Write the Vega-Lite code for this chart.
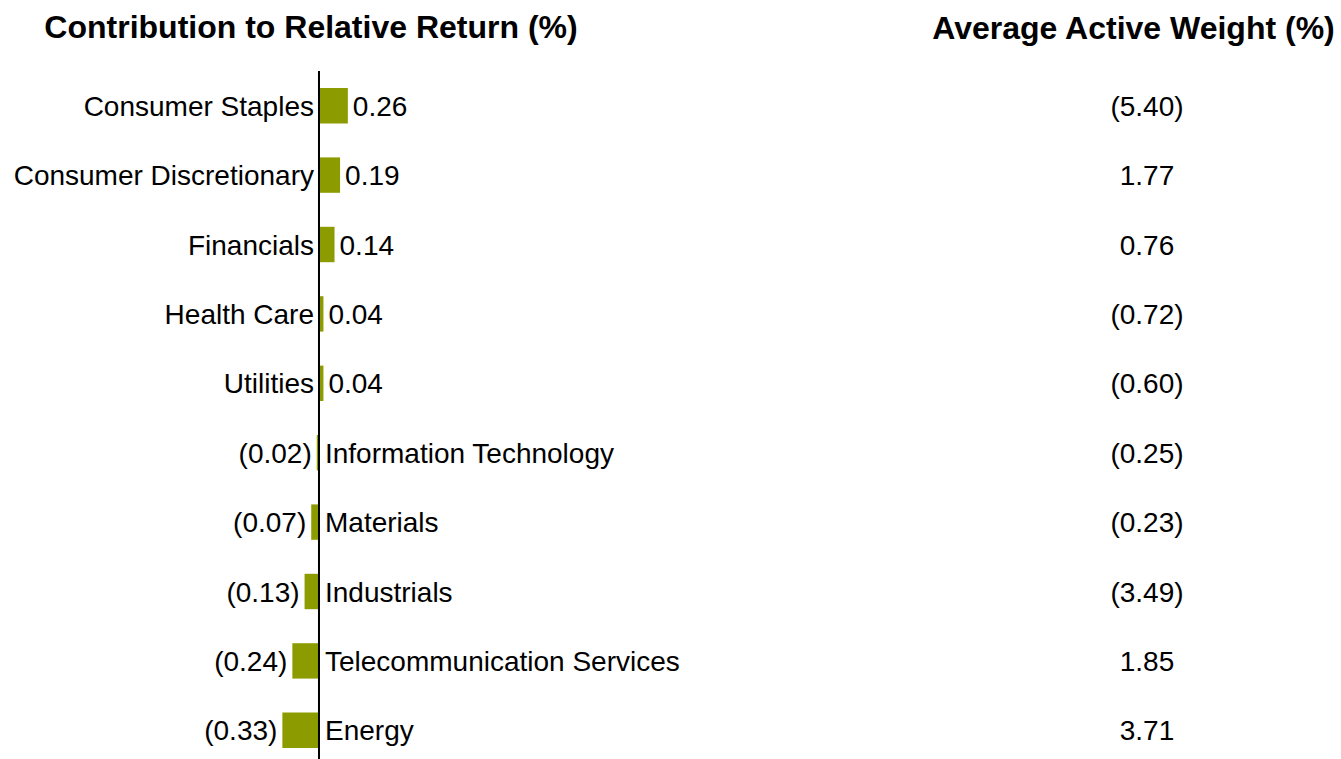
{
  "$schema": "https://vega.github.io/schema/vega-lite/v6.json",
  "padding": {"top": 12, "left": 0, "right": 0, "bottom": 0},
  "bounds": "flush",
  "spacing": 304,
  "config": {
    "view": {"stroke": null},
    "font": "Liberation Sans",
    "title": {"font": "Liberation Sans", "fontSize": 32, "fontWeight": "bold", "color": "#000000", "offset": 25},
    "text": {"font": "Liberation Sans", "fontSize": 28, "color": "#000000", "dy": 2}
  },
  "data": {
    "values": [
      {"sector": "Consumer Staples", "contrib": 0.26, "weight": -5.40},
      {"sector": "Consumer Discretionary", "contrib": 0.19, "weight": 1.77},
      {"sector": "Financials", "contrib": 0.14, "weight": 0.76},
      {"sector": "Health Care", "contrib": 0.04, "weight": -0.72},
      {"sector": "Utilities", "contrib": 0.04, "weight": -0.60},
      {"sector": "Information Technology", "contrib": -0.02, "weight": -0.25},
      {"sector": "Materials", "contrib": -0.07, "weight": -0.23},
      {"sector": "Industrials", "contrib": -0.13, "weight": -3.49},
      {"sector": "Telecommunication Services", "contrib": -0.24, "weight": 1.85},
      {"sector": "Energy", "contrib": -0.33, "weight": 3.71}
    ]
  },
  "hconcat": [
    {
      "width": 622,
      "height": 694,
      "title": "Contribution to Relative Return (%)",
      "layer": [
        {
          "mark": {"type": "bar", "color": "#8C9C00"},
          "encoding": {
            "y": {"field": "sector", "type": "nominal", "axis": null,
                  "sort": ["Consumer Staples", "Consumer Discretionary", "Financials", "Health Care", "Utilities", "Information Technology", "Materials", "Industrials", "Telecommunication Services", "Energy"],
                  "scale": {"paddingInner": 0.49, "paddingOuter": 0.245}},
            "x": {"field": "contrib", "type": "quantitative", "axis": null,
                  "scale": {"domain": [-2.874, 2.730], "nice": false, "zero": false}}
          }
        },
        {
          "data": {"values": [{"z": 0}]},
          "mark": {"type": "rule", "color": "#000000", "strokeWidth": 2},
          "encoding": {"x": {"field": "z", "type": "quantitative"}}
        },
        {
          "transform": [{"filter": "datum.contrib > 0"}],
          "mark": {"type": "text", "align": "right", "dx": -5, "dy": 2},
          "encoding": {
            "y": {"field": "sector", "type": "nominal", "sort": ["Consumer Staples", "Consumer Discretionary", "Financials", "Health Care", "Utilities", "Information Technology", "Materials", "Industrials", "Telecommunication Services", "Energy"]},
            "x": {"datum": 0},
            "text": {"field": "sector"}
          }
        },
        {
          "transform": [{"filter": "datum.contrib < 0"}],
          "mark": {"type": "text", "align": "left", "dx": 6, "dy": 2},
          "encoding": {
            "y": {"field": "sector", "type": "nominal", "sort": ["Consumer Staples", "Consumer Discretionary", "Financials", "Health Care", "Utilities", "Information Technology", "Materials", "Industrials", "Telecommunication Services", "Energy"]},
            "x": {"datum": 0},
            "text": {"field": "sector"}
          }
        },
        {
          "transform": [{"filter": "datum.contrib > 0"}],
          "mark": {"type": "text", "align": "left", "dx": 5, "dy": 2},
          "encoding": {
            "y": {"field": "sector", "type": "nominal", "sort": ["Consumer Staples", "Consumer Discretionary", "Financials", "Health Care", "Utilities", "Information Technology", "Materials", "Industrials", "Telecommunication Services", "Energy"]},
            "x": {"field": "contrib", "type": "quantitative"},
            "text": {"field": "contrib", "type": "quantitative", "format": "(.2f"}
          }
        },
        {
          "transform": [{"filter": "datum.contrib < 0"}],
          "mark": {"type": "text", "align": "right", "dx": -5, "dy": 2},
          "encoding": {
            "y": {"field": "sector", "type": "nominal", "sort": ["Consumer Staples", "Consumer Discretionary", "Financials", "Health Care", "Utilities", "Information Technology", "Materials", "Industrials", "Telecommunication Services", "Energy"]},
            "x": {"field": "contrib", "type": "quantitative"},
            "text": {"field": "contrib", "type": "quantitative", "format": "(.2f"}
          }
        }
      ]
    },
    {
      "width": 415,
      "height": 694,
      "title": "Average Active Weight (%)",
      "mark": {"type": "text", "align": "center", "dy": 2},
      "encoding": {
        "y": {"field": "sector", "type": "nominal", "axis": null,
              "sort": ["Consumer Staples", "Consumer Discretionary", "Financials", "Health Care", "Utilities", "Information Technology", "Materials", "Industrials", "Telecommunication Services", "Energy"],
              "scale": {"paddingInner": 0.49, "paddingOuter": 0.245}},
        "x": {"datum": 0.5325, "scale": {"domain": [0, 1]}, "axis": null},
        "text": {"field": "weight", "type": "quantitative", "format": "(.2f"}
      }
    }
  ]
}
